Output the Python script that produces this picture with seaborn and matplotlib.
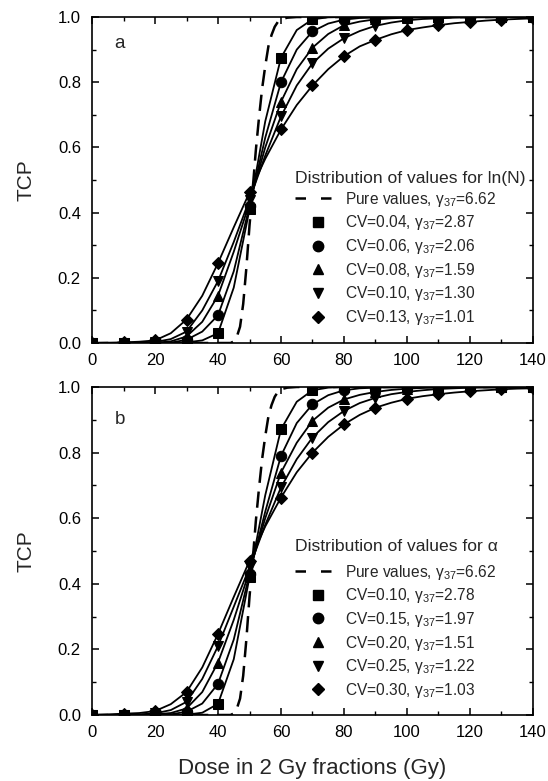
import numpy as np
import pandas as pd
import matplotlib
matplotlib.use("Agg")
import matplotlib.pyplot as plt
from matplotlib.lines import Line2D
from matplotlib.ticker import MultipleLocator
import seaborn as sns

# ---------------- data ----------------
dose = [0, 5, 10, 15, 20, 25, 30, 35, 40, 45, 50, 55, 60, 65, 70, 75, 80,
        85, 90, 95, 100, 105, 110, 115, 120, 125, 130, 135, 140]

# panel a : distribution of ln(N)
a_labels = ["CV=0.04, γ$_{37}$=2.87", "CV=0.06, γ$_{37}$=2.06",
            "CV=0.08, γ$_{37}$=1.59", "CV=0.10, γ$_{37}$=1.30",
            "CV=0.13, γ$_{37}$=1.01"]
a_cv04 = [0, 0, 0, 0, 0, 0, 0.002, 0.008, 0.03, 0.17, 0.41, 0.68, 0.875, 0.96,
          0.993, 0.999, 1.0, 1.0, 1.0, 1.0, 1.0, 1.0, 1.0, 1.0, 1.0, 1.0, 1.0, 1.0, 1.0]
a_cv06 = [0, 0, 0, 0, 0, 0.001, 0.01, 0.035, 0.085, 0.22, 0.42, 0.63, 0.80, 0.90,
          0.956, 0.980, 0.992, 0.997, 0.999, 1, 1, 1, 1, 1, 1, 1, 1, 1, 1]
a_cv08 = [0, 0, 0, 0, 0.001, 0.005, 0.02, 0.065, 0.145, 0.28, 0.43, 0.60, 0.74,
          0.84, 0.906, 0.948, 0.975, 0.986, 0.993, 0.996, 0.998, 0.999, 1, 1, 1, 1, 1, 1, 1]
a_cv10 = [0, 0, 0, 0.001, 0.003, 0.012, 0.035, 0.10, 0.19, 0.31, 0.44, 0.575, 0.695,
          0.79, 0.858, 0.903, 0.935, 0.957, 0.973, 0.983, 0.99, 0.994, 0.996, 0.998,
          0.999, 0.999, 1, 1, 1]
a_cv13 = [0, 0.001, 0.002, 0.004, 0.008, 0.03, 0.072, 0.145, 0.245, 0.355, 0.462,
          0.565, 0.655, 0.73, 0.79, 0.84, 0.88, 0.91, 0.93, 0.947, 0.96, 0.968, 0.975,
          0.981, 0.985, 0.989, 0.992, 0.994, 0.996]

# panel b : distribution of alpha
b_labels = ["CV=0.10, γ$_{37}$=2.78", "CV=0.15, γ$_{37}$=1.97",
            "CV=0.20, γ$_{37}$=1.51", "CV=0.25, γ$_{37}$=1.22",
            "CV=0.30, γ$_{37}$=1.03"]
b_cv10 = [0, 0, 0, 0, 0, 0, 0.001, 0.007, 0.034, 0.17, 0.42, 0.67, 0.871, 0.955,
          0.99, 0.998, 1, 1, 1, 1, 1, 1, 1, 1, 1, 1, 1, 1, 1]
b_cv15 = [0, 0, 0, 0, 0, 0.002, 0.01, 0.035, 0.095, 0.23, 0.43, 0.62, 0.79, 0.89,
          0.947, 0.975, 0.99, 0.996, 0.998, 0.999, 1, 1, 1, 1, 1, 1, 1, 1, 1]
b_cv20 = [0, 0, 0, 0, 0.002, 0.006, 0.02, 0.07, 0.16, 0.29, 0.44, 0.60, 0.739, 0.83,
          0.897, 0.937, 0.962, 0.976, 0.985, 0.991, 0.995, 0.997, 0.998, 0.999, 0.999,
          1, 1, 1, 1]
b_cv25 = [0, 0, 0.001, 0.002, 0.005, 0.015, 0.04, 0.11, 0.21, 0.33, 0.45, 0.58,
          0.694, 0.78, 0.846, 0.893, 0.927, 0.951, 0.967, 0.978, 0.985, 0.99, 0.994,
          0.996, 0.998, 0.998, 0.999, 0.999, 1.0]
b_cv30 = [0, 0.002, 0.004, 0.006, 0.012, 0.033, 0.07, 0.145, 0.247, 0.36, 0.47,
          0.575, 0.663, 0.74, 0.80, 0.848, 0.886, 0.915, 0.937, 0.952, 0.964, 0.972,
          0.978, 0.983, 0.987, 0.99, 0.993, 0.995, 0.996]

# pure values (no heterogeneity), same in both panels
pure_dose = [0, 44, 45, 46, 47, 48, 49, 50, 51, 52, 53, 54, 55, 56, 57, 58, 59,
             60, 62, 65, 140]
pure_tcp = [0, 0, 0.005, 0.02, 0.05, 0.12, 0.23, 0.36, 0.47, 0.59, 0.69, 0.78,
            0.85, 0.91, 0.945, 0.97, 0.985, 0.993, 0.998, 1.0, 1.0]
pure_label = "Pure values, γ$_{37}$=6.62"

markers = ["s", "o", "^", "v", "D"]
msizes = [7, 7.5, 7.5, 7.5, 6.6]

panels = [
    ("a", "Distribution of values for ln(N)", a_labels,
     [a_cv04, a_cv06, a_cv08, a_cv10, a_cv13], 0.529, 3, 0.905),
    ("b", "Distribution of values for α", b_labels,
     [b_cv10, b_cv15, b_cv20, b_cv25, b_cv30], 0.536, 6, 0.886),
]

# ---------------- style ----------------
sns.set_theme(style="ticks")
plt.rcParams["font.family"] = ["Liberation Sans", "DejaVu Sans"]
plt.rcParams["mathtext.fontset"] = "custom"
plt.rcParams["mathtext.rm"] = "Liberation Sans"
plt.rcParams["mathtext.it"] = "Liberation Sans"
plt.rcParams.update({
    "xtick.direction": "in", "ytick.direction": "in",
    "xtick.top": True, "ytick.right": True,
    "xtick.major.size": 5, "ytick.major.size": 5,
    "xtick.minor.size": 2.6, "ytick.minor.size": 2.6,
    "xtick.major.width": 1.1, "ytick.major.width": 1.1,
    "xtick.minor.width": 1.0, "ytick.minor.width": 1.0,
    "axes.linewidth": 1.2,
    "xtick.color": "black", "ytick.color": "black",
    "axes.edgecolor": "black",
})

fig = plt.figure(figsize=(5.48, 7.81), dpi=100)
ax_a = fig.add_axes([0.1679, 0.5608, 0.8047, 0.4174])
ax_b = fig.add_axes([0.1679, 0.0845, 0.8047, 0.4200])

for ax, (tag, title, labels, series, ly, sep, ty) in zip([ax_a, ax_b], panels):
    for vals, m, ms in zip(series, markers, msizes):
        sns.lineplot(x=dose, y=vals, ax=ax, color="black", linewidth=1.3,
                     marker=m, markersize=ms, markevery=2,
                     markeredgecolor="black", markerfacecolor="black",
                     estimator=None, sort=False)
    sns.lineplot(x=pure_dose, y=pure_tcp, ax=ax, color="black", linewidth=1.8,
                 estimator=None, sort=False, dashes=False)
    ax.lines[-1].set_dashes((6.5, 3.5))

    ax.set_xlim(0, 140)
    ax.set_ylim(0, 1.0)
    ax.xaxis.set_major_locator(MultipleLocator(20))
    ax.xaxis.set_minor_locator(MultipleLocator(10))
    ax.yaxis.set_major_locator(MultipleLocator(0.2))
    ax.yaxis.set_minor_locator(MultipleLocator(0.1))
    ax.set_yticks([0, 0.2, 0.4, 0.6, 0.8, 1.0])
    ax.set_yticklabels(["0.0", "0.2", "0.4", "0.6", "0.8", "1.0"])
    ax.tick_params(which="both", labelsize=12)
    ax.tick_params(axis="y", which="both", pad=8)
    ax.tick_params(axis="x", which="both", pad=7.5)
    ax.set_ylabel("TCP", fontsize=15, labelpad=16)
    ax.set_xlabel("")
    ax.text(0.063, ty, tag, transform=ax.transAxes, fontsize=13.5,
            ha="center", va="baseline")

    handles = [Line2D([0], [0], color="black", linewidth=1.8, dashes=(4.2, 6.0))]
    for m, ms in zip(markers, msizes):
        handles.append(Line2D([0], [0], linestyle="none", marker=m, markersize=ms,
                              color="black"))
    leg = ax.legend(handles, [pure_label] + labels, title=title,
                    loc="upper left", bbox_to_anchor=(0.46, ly),
                    frameon=False, fontsize=11.2, title_fontsize=12.6,
                    handlelength=3.0, handletextpad=0.2, labelspacing=0.3,
                    borderpad=0, borderaxespad=0, alignment="left")
    leg._legend_box.sep = sep

ax_b.set_xlabel("Dose in 2 Gy fractions (Gy)", fontsize=16, labelpad=13)

fig.savefig("out.png", dpi=100)
